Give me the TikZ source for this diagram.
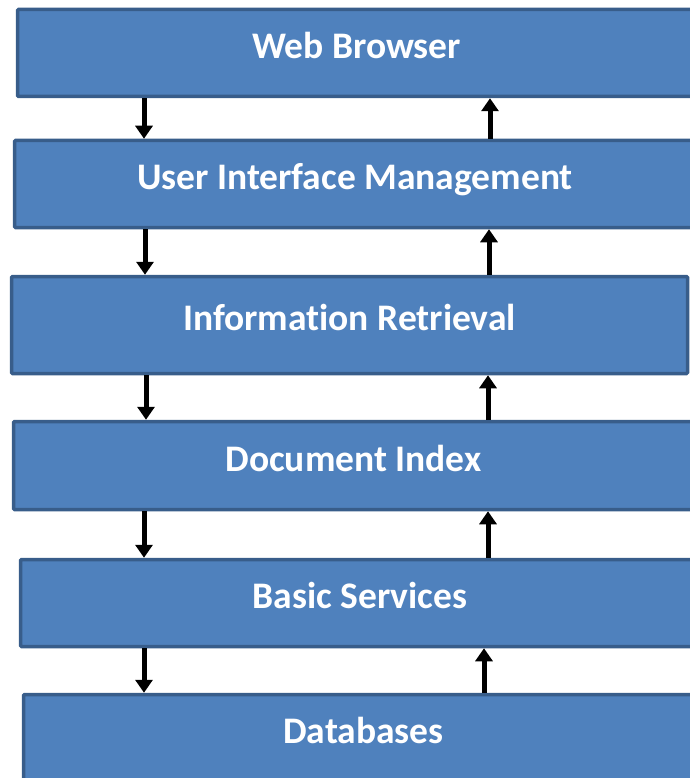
\documentclass[tikz,border=0pt]{standalone}
\usepackage{fontspec}
\setmainfont{Carlito}[Ligatures=CommonOff]
\usetikzlibrary{arrows.meta}

\definecolor{azulcapa}{HTML}{4F81BD}
\definecolor{bordecapa}{HTML}{385D8A}

\tikzset{
    capa/.style={draw=bordecapa, fill=azulcapa, line width=3.5pt, rounded corners=1pt,
        inner sep=0pt, text=white, font=\fontsize{37.5}{42}\selectfont\bfseries,
        text height=24pt, text depth=13pt, minimum height=87pt},
    flecha/.style={line width=5pt, -{Triangle[width=17pt,length=13pt]}}
}

\begin{document}
\begin{tikzpicture}[x=1pt,y=-1pt]

    \useasboundingbox (0,0) rectangle (689,778);

    % Capas
        \node[capa, minimum width=678pt] (web) at (356.5,53) {Web Browser};
        \node[capa, minimum width=681pt] (uim) at (355,184) {User Interface Management};
        \node[capa, minimum width=676pt, minimum height=97pt] (ir) at (349.5,325) {Information Retrieval};
        \node[capa, minimum width=680pt, minimum height=88pt] (idx) at (353.5,465.5) {Document Index};
        \node[capa, minimum width=679pt] (bs) at (360,603) {Basic Services};
        \node[capa, minimum width=680pt] (db) at (363.5,738) {Databases};

    % Flechas hacia abajo
        \draw[flecha] (144,0 |- web.south) -- (144,0 |- uim.north);
        \draw[flecha] (145,0 |- uim.south) -- (145,0 |- ir.north);
        \draw[flecha] (146,0 |- ir.south) -- (146,0 |- idx.north);
        \draw[flecha] (144,0 |- idx.south) -- (144,0 |- bs.north);
        \draw[flecha] (144,0 |- bs.south) -- (144,0 |- db.north);

    % Flechas hacia arriba
        \draw[flecha] (490,0 |- uim.north) -- (490,0 |- web.south);
        \draw[flecha] (489,0 |- ir.north) -- (489,0 |- uim.south);
        \draw[flecha] (488,0 |- idx.north) -- (488,0 |- ir.south);
        \draw[flecha] (488,0 |- bs.north) -- (488,0 |- idx.south);
        \draw[flecha] (484,0 |- db.north) -- (484,0 |- bs.south);

\end{tikzpicture}
\end{document}
